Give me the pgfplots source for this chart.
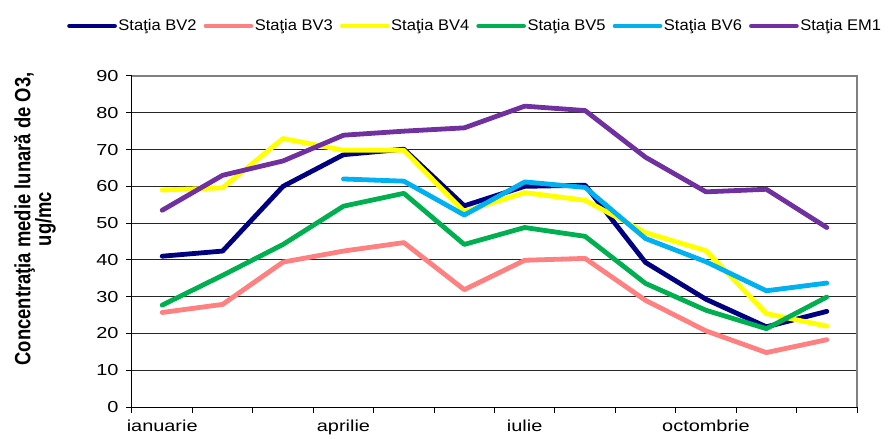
\documentclass[border=0pt]{standalone}
\usepackage{pgfplots}
\pgfplotsset{compat=1.18}
\usepackage{fontspec}
\setmainfont{Liberation Sans}
\newfontfamily\tickfont{Liberation Sans}[FakeStretch=1.25]
\newfontfamily\legfont{Liberation Sans}[FakeStretch=1.07]
\definecolor{cBVtwo}{RGB}{0,0,128}
\definecolor{cBVthree}{RGB}{255,128,128}
\definecolor{cBVfour}{RGB}{255,255,0}
\definecolor{cBVfive}{RGB}{0,176,80}
\definecolor{cBVsix}{RGB}{0,176,240}
\definecolor{cEM}{RGB}{112,48,160}
\begin{document}
\begin{tikzpicture}
\path[use as bounding box] (-132bp,-32bp) rectangle (760bp,407bp);
\begin{axis}[
  scale only axis,
  width=725bp, height=331bp,
  xmin=0, xmax=12, ymin=0, ymax=90,
  axis lines=left,
  axis line style={-, black, line width=1bp},
  tick align=outside,
  major tick length=6bp,
  tick style={black, line width=1bp},
  xtick={0,1,...,12},
  xticklabels={ianuarie,,,aprilie,,,iulie,,,octombrie,,,},
  xticklabel style={xshift=30.2bp, anchor=north, yshift=-3bp},
  ytick={0,10,...,90},
  yticklabel style={anchor=east, xshift=-4bp},
  ticklabel style={font=\tickfont\fontsize{16}{16}\selectfont},
  /pgf/number format/assume math mode=true,
  ymajorgrids,
  grid style={black!85, line width=1bp},
  clip=false,
  legend columns=6,
  legend style={at={(axis description cs:-0.0897,1.1511)}, anchor=west,
    draw=none, fill=none, inner sep=0pt,
    font=\legfont\fontsize{15.5}{16}\selectfont,
    nodes={inner sep=1.5bp},
    /tikz/every even column/.append style={column sep=5.5bp}},
  legend image code/.code={\draw[#1, line width=4.8bp, line cap=round] (0bp,0bp) -- (45bp,0bp);},
  every axis plot/.append style={line width=4.8bp, line join=round, line cap=round, mark=none},
]
\draw[gray, line width=1.2bp] (rel axis cs:0,1) -- (rel axis cs:1,1) -- (rel axis cs:1,0);
\addplot[cBVtwo] coordinates {(0.5,41.0) (1.5,42.4) (2.5,60.0) (3.5,68.6) (4.5,70.1) (5.5,54.7) (6.5,60.0) (7.5,60.3) (8.5,39.3) (9.5,29.3) (10.5,21.8) (11.5,26.0)};
\addlegendentry{Staţia BV2}
\addplot[cBVthree] coordinates {(0.5,25.7) (1.5,27.9) (2.5,39.4) (3.5,42.4) (4.5,44.7) (5.5,31.9) (6.5,39.9) (7.5,40.4) (8.5,29.0) (9.5,20.7) (10.5,14.8) (11.5,18.3)};
\addlegendentry{Staţia BV3}
\addplot[cBVfour] coordinates {(0.5,59.0) (1.5,59.6) (2.5,73.0) (3.5,69.8) (4.5,69.8) (5.5,53.1) (6.5,58.3) (7.5,56.2) (8.5,47.4) (9.5,42.5) (10.5,25.4) (11.5,22.0)};
\addlegendentry{Staţia BV4}
\addplot[cBVfive] coordinates {(0.5,27.7) (1.5,35.8) (2.5,44.2) (3.5,54.6) (4.5,58.1) (5.5,44.2) (6.5,48.8) (7.5,46.4) (8.5,33.6) (9.5,26.3) (10.5,21.3) (11.5,29.9)};
\addlegendentry{Staţia BV5}
\addplot[cBVsix] coordinates {(3.5,62.0) (4.5,61.4) (5.5,52.2) (6.5,61.2) (7.5,59.7) (8.5,45.8) (9.5,39.5) (10.5,31.6) (11.5,33.7)};
\addlegendentry{Staţia BV6}
\addplot[cEM] coordinates {(0.5,53.5) (1.5,63.0) (2.5,66.9) (3.5,73.9) (4.5,75.0) (5.5,75.9) (6.5,81.8) (7.5,80.6) (8.5,67.9) (9.5,58.5) (10.5,59.2) (11.5,48.8)};
\addlegendentry{Staţia EM1}
\end{axis}
\node[rotate=90, align=center, font=\bfseries\fontsize{18.5}{21}\selectfont] at (-97bp,188bp)
  {\scalebox{1}[1.2]{Concentraţia medie lunară de O3,}\\\scalebox{1}[1.2]{ug/mc}};
\end{tikzpicture}
\end{document}
